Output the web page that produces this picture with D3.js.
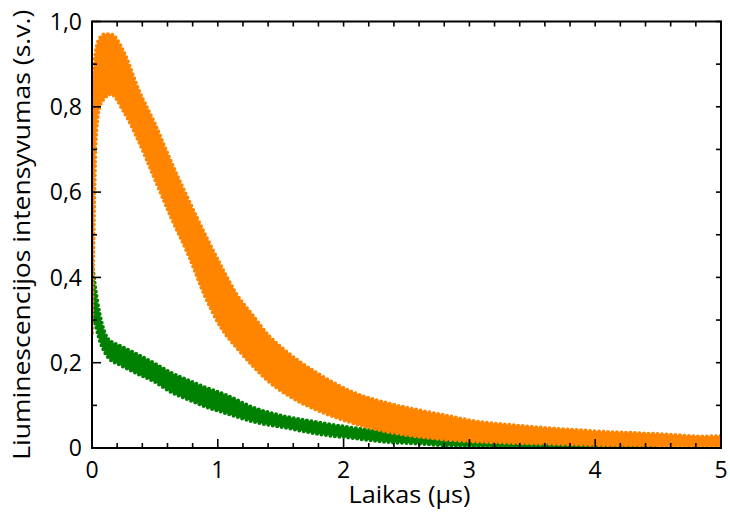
<!DOCTYPE html>
<html>
<head>
<meta charset="utf-8">
<script src="https://cdn.jsdelivr.net/npm/d3@7"></script>
<style>
  body { margin: 0; background: #fff; }
  svg { display: block; font-family: "Open Sans", sans-serif; }
  .axis-line { stroke: #000; stroke-width: 2; fill: none; }
  .tick-line { stroke: #000; stroke-width: 1.6; }
  .tick-label { font-size: 23px; fill: #000; }
  .axis-title { font-size: 23px; fill: #000; }
</style>
</head>
<body>
<svg id="chart" width="730" height="515"></svg>
<script>
// envelope of the orange point cloud (time in µs, lower / upper edge)
var orangeX  = [0, 0.01, 0.03, 0.06, 0.10, 0.15, 0.25, 0.37, 0.50, 0.63, 0.77, 0.90, 1.02, 1.15, 1.28, 1.40, 1.55, 1.82, 2.08, 2.35, 2.61, 2.80, 3.06, 3.33, 3.60, 3.86, 4.07, 4.33, 4.60, 4.86, 5.00];
var orangeLo = [0.27, 0.45, 0.72, 0.80, 0.82, 0.83, 0.79, 0.72, 0.63, 0.54, 0.45, 0.355, 0.285, 0.235, 0.192, 0.157, 0.125, 0.085, 0.058, 0.038, 0.026, 0.02, 0.015, 0.012, 0.01, 0.008, 0.006, 0.005, 0.004, 0.004, 0.004];
var orangeHi = [0.50, 0.85, 0.93, 0.96, 0.97, 0.97, 0.93, 0.84, 0.76, 0.67, 0.58, 0.50, 0.43, 0.36, 0.31, 0.265, 0.225, 0.17, 0.13, 0.105, 0.088, 0.077, 0.062, 0.054, 0.047, 0.042, 0.038, 0.035, 0.031, 0.027, 0.028];

// envelope of the green point cloud
var greenX  = [0, 0.024, 0.064, 0.13, 0.235, 0.37, 0.50, 0.63, 0.77, 0.90, 1.06, 1.28, 1.55, 1.82, 2.08, 2.35, 2.61, 2.80, 3.06, 3.60, 3.86, 4.50];
var greenLo = [0.30, 0.29, 0.25, 0.212, 0.193, 0.173, 0.155, 0.131, 0.113, 0.097, 0.082, 0.062, 0.047, 0.032, 0.023, 0.014, 0.010, 0.006, 0.004, 0.002, 0.001, 0.0];
var greenHi = [0.44, 0.38, 0.31, 0.255, 0.238, 0.218, 0.198, 0.176, 0.158, 0.142, 0.125, 0.095, 0.073, 0.059, 0.047, 0.038, 0.030, 0.024, 0.019, 0.012, 0.008, 0.004];

var xTicks = [0, 1, 2, 3, 4, 5];
var xTickLabels = ["0", "1", "2", "3", "4", "5"];
var yTicks = [0, 0.2, 0.4, 0.6, 0.8, 1.0];
var yTickLabels = ["0", "0,2", "0,4", "0,6", "0,8", "1,0"];

var xTitle = "Laikas (µs)";
var yTitle = "Liuminescencijos intensyvumas (s.v.)";

var width = 730, height = 515;
var margin = { top: 21.5, right: 9, bottom: 67, left: 92 };
var innerW = width - margin.left - margin.right,
    innerH = height - margin.top - margin.bottom;

var xScale = d3.scaleLinear().domain([0, 5]).range([0, innerW]);
var yScale = d3.scaleLinear().domain([0, 1]).range([innerH, 0]);

var svg = d3.select('#chart');
var g = svg.append('g').attr('transform', 'translate(' + margin.left + ',' + margin.top + ')');

g.append('clipPath').attr('id', 'plot-clip')
    .append('rect').attr('width', innerW).attr('height', innerH);

var zip = function (xs, lo, hi) {
    return xs.map(function (x, i) { return { x: x, lo: lo[i], hi: hi[i] }; });
};

var band = function (data, colour) {
    var area = d3.area()
        .curve(d3.curveMonotoneX)
        .x(function (d) { return xScale(d.x); })
        .y0(function (d) { return yScale(d.lo); })
        .y1(function (d) { return yScale(d.hi); });
    var edge = function (key) {
        return d3.line()
            .curve(d3.curveMonotoneX)
            .x(function (d) { return xScale(d.x); })
            .y(function (d) { return yScale(d[key]); });
    };
    var layer = g.append('g').attr('clip-path', 'url(#plot-clip)');
    layer.append('path').datum(data)
        .attr('d', area)
        .attr('fill', colour);
    // dotted rims so the edge looks like the scattered points
    ['lo', 'hi'].forEach(function (key) {
        layer.append('path').datum(data)
            .attr('d', edge(key))
            .attr('fill', 'none')
            .attr('stroke', colour)
            .attr('stroke-width', 4)
            .attr('stroke-linecap', 'round')
            .attr('stroke-dasharray', '0 4.5');
    });
};

band(zip(greenX, greenLo, greenHi), '#008000');
band(zip(orangeX, orangeLo, orangeHi), '#ff8400');

// ticks (all inward)
var xMinor = d3.range(0, 5.0001, 0.2);
var yMinor = d3.range(0, 1.0001, 0.1);
var isMajorX = function (v) { return Math.abs(v - Math.round(v)) < 1e-6; };
var isMajorY = function (v) { return Math.abs(v * 5 - Math.round(v * 5)) < 1e-6; };

xMinor.forEach(function (v) {
    var len = isMajorX(v) ? 9 : 5;
    g.append('line').attr('class', 'tick-line')
        .attr('x1', xScale(v)).attr('x2', xScale(v))
        .attr('y1', innerH).attr('y2', innerH - len);
    g.append('line').attr('class', 'tick-line')
        .attr('x1', xScale(v)).attr('x2', xScale(v))
        .attr('y1', 0).attr('y2', 5);
});
yMinor.forEach(function (v) {
    var len = isMajorY(v) ? 9 : 5;
    g.append('line').attr('class', 'tick-line')
        .attr('x1', 0).attr('x2', len)
        .attr('y1', yScale(v)).attr('y2', yScale(v));
    g.append('line').attr('class', 'tick-line')
        .attr('x1', innerW).attr('x2', innerW - 5)
        .attr('y1', yScale(v)).attr('y2', yScale(v));
});

g.append('rect').attr('class', 'axis-line')
    .attr('width', innerW).attr('height', innerH);

// tick labels
g.selectAll('.xlab').data(xTicks).enter().append('text')
    .attr('class', 'tick-label')
    .attr('x', function (d) { return xScale(d); })
    .attr('y', innerH + 30)
    .attr('text-anchor', 'middle')
    .text(function (d, i) { return xTickLabels[i]; });

g.selectAll('.ylab').data(yTicks).enter().append('text')
    .attr('class', 'tick-label')
    .attr('x', -10)
    .attr('y', function (d) { return yScale(d); })
    .attr('dy', '0.36em')
    .attr('text-anchor', 'end')
    .text(function (d, i) { return yTickLabels[i]; });

// axis titles
g.append('text').attr('class', 'axis-title')
    .attr('x', innerW / 2 + 3)
    .attr('y', innerH + 55)
    .attr('text-anchor', 'middle')
    .attr('textLength', 122)
    .attr('lengthAdjust', 'spacingAndGlyphs')
    .text(xTitle);

g.append('text').attr('class', 'axis-title')
    .attr('transform', 'translate(' + (-margin.left + 30) + ',' + (innerH / 2) + ') rotate(-90)')
    .attr('text-anchor', 'middle')
    .attr('textLength', 450)
    .attr('lengthAdjust', 'spacingAndGlyphs')
    .text(yTitle);
</script>
</body>
</html>
